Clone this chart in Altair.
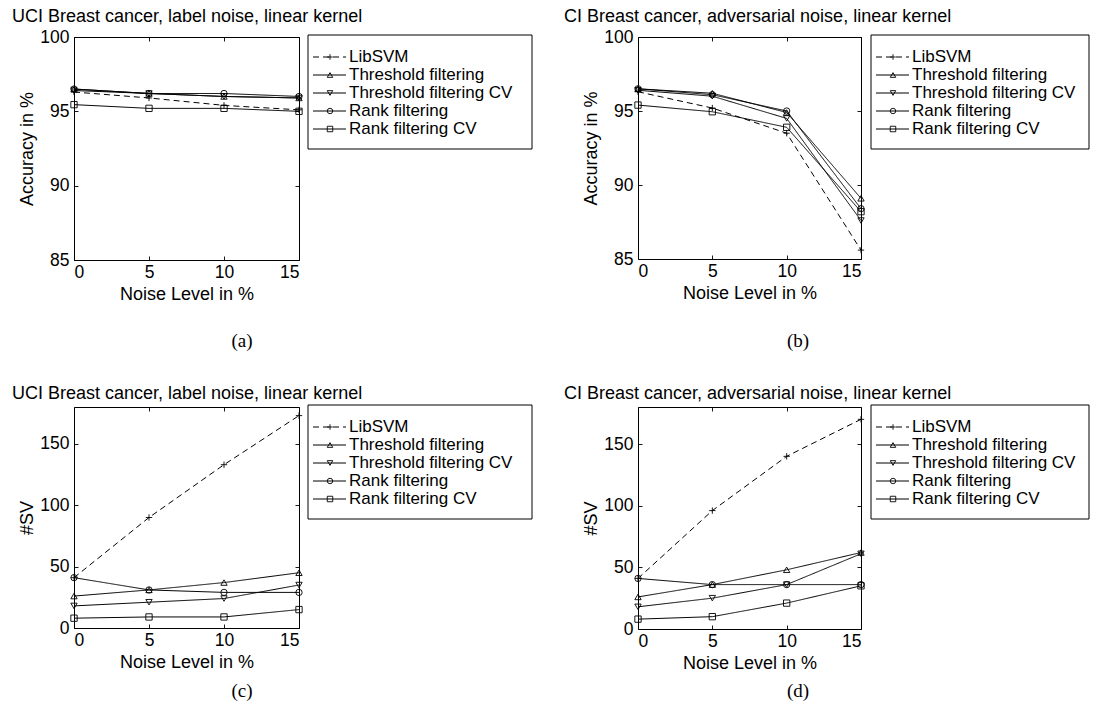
import altair as alt
import pandas as pd

noise = [0, 5, 10, 15]
series = ["LibSVM", "Threshold filtering", "Threshold filtering CV",
          "Rank filtering", "Rank filtering CV"]

acc_label = {
    "LibSVM": [96.3, 95.9, 95.4, 95.1],
    "Threshold filtering": [96.5, 96.2, 96.0, 95.9],
    "Threshold filtering CV": [96.4, 96.2, 96.0, 95.9],
    "Rank filtering": [96.5, 96.2, 96.2, 96.0],
    "Rank filtering CV": [95.45, 95.2, 95.2, 95.0],
}
acc_adv = {
    "LibSVM": [96.3, 95.2, 93.5, 85.6],
    "Threshold filtering": [96.5, 96.2, 94.9, 89.1],
    "Threshold filtering CV": [96.4, 96.0, 94.5, 87.6],
    "Rank filtering": [96.5, 96.1, 95.0, 88.4],
    "Rank filtering CV": [95.4, 94.95, 93.9, 88.2],
}
sv_label = {
    "LibSVM": [41, 90, 133, 173],
    "Threshold filtering": [26, 31, 37, 45],
    "Threshold filtering CV": [18, 21, 24, 35],
    "Rank filtering": [41, 31, 29, 29],
    "Rank filtering CV": [8, 9, 9, 15],
}
sv_adv = {
    "LibSVM": [41, 96, 140, 170],
    "Threshold filtering": [26, 36, 48, 62],
    "Threshold filtering CV": [18, 25, 36, 61],
    "Rank filtering": [41, 36, 36, 36],
    "Rank filtering CV": [8, 10, 21, 35],
}

FONT = "Liberation Sans"
FS_TICK = 17.5
FS_AX = 18
FS_LEG = 17
FS_TITLE = 18
PLUS = "M-1,0L1,0M0,-1L0,1"
shape_scale = alt.Scale(domain=series,
                        range=[PLUS, "triangle-up", "triangle-down", "circle", "square"])
dash_scale = alt.Scale(domain=series, range=[[6, 4], [1, 0], [1, 0], [1, 0], [1, 0]])


def panel(values, title, ylabel, ydomain, yticks, caption, W, H, leg_gap, leg_w,
          title_dx, cap_x, cap_y):
    rows = []
    for s in series:
        for n, v in zip(noise, values[s]):
            rows.append({"noise": n, "value": v, "series": s})
    df = pd.DataFrame(rows)

    xscale = alt.Scale(domain=[0, 15], nice=False)
    yscale = alt.Scale(domain=ydomain, nice=False, zero=False)
    tick_style = dict(tickSize=4, offset=-4, domain=False, tickColor="black",
                      labelColor="black", labelFont=FONT, labelFontSize=FS_TICK,
                      grid=False, tickWidth=0.9)
    title_style = dict(titleFont=FONT, titleFontSize=FS_AX, titleColor="black",
                       titleFontWeight="normal")
    x_bottom = alt.X("noise:Q", scale=xscale,
                     axis=alt.Axis(values=noise, title="Noise Level in %",
                                   labelPadding=3, titlePadding=5,
                                   **tick_style, **title_style))
    y_left = alt.Y("value:Q", scale=yscale,
                   axis=alt.Axis(values=yticks, title=ylabel, labelPadding=5,
                                 titlePadding=3, **tick_style, **title_style))

    lines = alt.Chart(df).mark_line(color="black", strokeWidth=1).encode(
        x=x_bottom, y=y_left,
        strokeDash=alt.StrokeDash("series:N", scale=dash_scale, legend=None),
    )
    pts = alt.Chart(df).mark_point(filled=False, color="black", strokeWidth=0.9,
                                   size=40, opacity=1).encode(
        x=alt.X("noise:Q", scale=xscale, axis=None),
        y=alt.Y("value:Q", scale=yscale, axis=None),
        shape=alt.Shape("series:N", scale=shape_scale, legend=None),
    )
    ghost = alt.Chart(df).mark_point(opacity=0).encode(
        x=alt.X("noise:Q", scale=xscale,
                axis=alt.Axis(orient="top", values=noise, labels=False, title=None,
                              **tick_style)),
        y=alt.Y("value:Q", scale=yscale,
                axis=alt.Axis(orient="right", values=yticks, labels=False, title=None,
                              **tick_style)),
    )

    leg_df = pd.DataFrame({"series": series})
    ly = alt.Y("series:N", axis=None,
               scale=alt.Scale(type="point", domain=series, range=[11, 101]))
    lx0 = W + leg_gap
    box = alt.Chart(pd.DataFrame({"k": [0]})).mark_rect(
        fillOpacity=0, stroke="black", strokeWidth=1).encode(
        x=alt.value(lx0), x2=alt.value(lx0 + leg_w),
        y=alt.value(-2), y2=alt.value(112))
    lrule = alt.Chart(leg_df).mark_rule(color="black", strokeWidth=1).encode(
        x=alt.value(lx0 + 5), x2=alt.value(lx0 + 38), y=ly,
        strokeDash=alt.StrokeDash("series:N", scale=dash_scale, legend=None))
    lpt = alt.Chart(leg_df).mark_point(filled=False, color="black", strokeWidth=0.9,
                                       size=30, opacity=1).encode(
        x=alt.value(lx0 + 22), y=ly,
        shape=alt.Shape("series:N", scale=shape_scale, legend=None))
    ltxt = alt.Chart(leg_df).mark_text(align="left", baseline="middle", font=FONT,
                                       fontSize=FS_LEG, color="black").encode(
        x=alt.value(lx0 + 41), y=ly, text="series:N")
    cap = alt.Chart(pd.DataFrame({"k": [0]})).mark_text(
        font="Liberation Serif", fontSize=19, color="black",
        align="center", baseline="middle").encode(
        x=alt.value(cap_x), y=alt.value(cap_y), text=alt.value(caption))

    return alt.layer(lines, pts, ghost, box, lrule, lpt, ltxt, cap).resolve_scale(
        y="independent").resolve_axis(x="independent", y="independent").properties(
        width=W, height=H,
        title=alt.TitleParams(title, anchor="start", frame="group", dx=title_dx,
                              font=FONT, fontSize=FS_TITLE, fontWeight="normal",
                              color="black", offset=2))


a = panel(acc_label, "UCI Breast cancer, label noise, linear kernel", "Accuracy in %",
          [85, 100], [85, 90, 95, 100], "(a)", 225, 223, 9, 224, -62, 168, 304)
b = panel(acc_adv, "CI Breast cancer, adversarial noise, linear kernel", "Accuracy in %",
          [85, 100], [85, 90, 95, 100], "(b)", 223, 222, 10, 218, -74, 160, 304)
c = panel(sv_label, "UCI Breast cancer, label noise, linear kernel", "#SV",
          [0, 180], [0, 50, 100, 150], "(c)", 225, 221, 9, 224, -62, 168, 284)
d = panel(sv_adv, "CI Breast cancer, adversarial noise, linear kernel", "#SV",
          [0, 180], [0, 50, 100, 150], "(d)", 223, 222, 10, 218, -74, 160, 284)

chart = alt.vconcat(
    alt.hconcat(a, b, spacing=30),
    alt.hconcat(c, d, spacing=30),
    spacing=32,
).properties(padding={"left": 11, "top": 7, "right": 0, "bottom": 0},
             background="white").configure_view(stroke="black", strokeWidth=1)

chart.save("out.html", embed_options={"renderer": "svg", "actions": False})
